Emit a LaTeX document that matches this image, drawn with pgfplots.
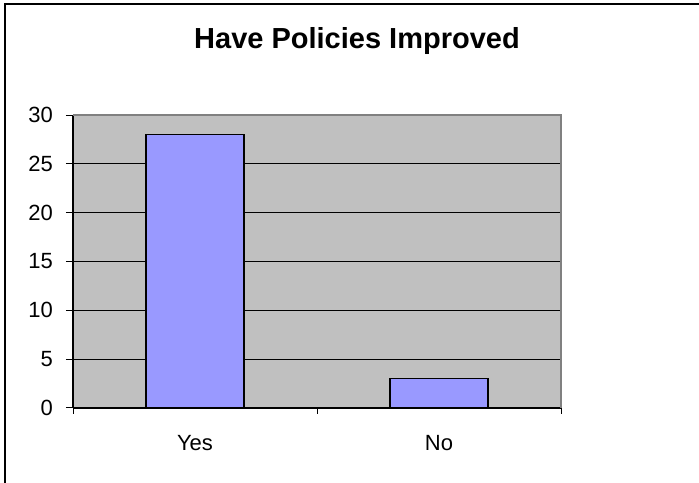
\documentclass[border=0pt]{standalone}
\usepackage{fontspec}
\setmainfont{Liberation Sans}
\usepackage{pgfplots}
\pgfplotsset{compat=1.18}

\definecolor{plotgray}{HTML}{C0C0C0}
\definecolor{framegray}{HTML}{808080}
\definecolor{barblue}{HTML}{9999FF}

\begin{document}
\begin{tikzpicture}
  \path[use as bounding box] (0,0) rectangle (699bp,483bp);
  % chart frame (runs off to the right and bottom)
  \draw[black, line width=2bp] (5bp,-20bp) -- (5bp,479bp) -- (720bp,479bp);
  % title
  \node[anchor=base, font=\bfseries\fontsize{29bp}{32bp}\selectfont]
    at (357bp,434.5bp) {Have Policies Improved};
  \begin{axis}[
    name=ax,
    at={(73bp,75bp)}, anchor=south west,
    width=488bp, height=293bp, scale only axis,
    axis lines*=left,
    axis line style={black, line width=1.2bp},
    axis background/.style={fill=plotgray},
    xmin=-0.5, xmax=1.5, ymin=0, ymax=30,
    xtick={0,1}, xticklabels={Yes,No},
    major x tick style={draw=none},
    minor xtick={-0.5,0.5,1.5},
    ytick={0,5,...,30},
    tick align=outside,
    major tick length=7bp, minor tick length=6bp,
    tick style={black, line width=1bp},
    ymajorgrids, grid style={black, line width=1bp},
    /pgf/number format/assume math mode=true,
    ticklabel style={font=\fontsize{22bp}{24bp}\selectfont},
    yticklabel style={anchor=east, inner sep=0pt, xshift=-13bp},
    xticklabel style={anchor=base, inner sep=0pt, yshift=-36bp},
    ybar, bar width=0.4,
  ]
    \addplot[fill=barblue, draw=black, line width=1.5bp]
      coordinates {(0,28) (1,3)};
  \end{axis}
  % grey border on top and right of plot area
  \draw[framegray, line width=2bp] (ax.north west) -- (ax.north east) -- (ax.south east);
\end{tikzpicture}
\end{document}
